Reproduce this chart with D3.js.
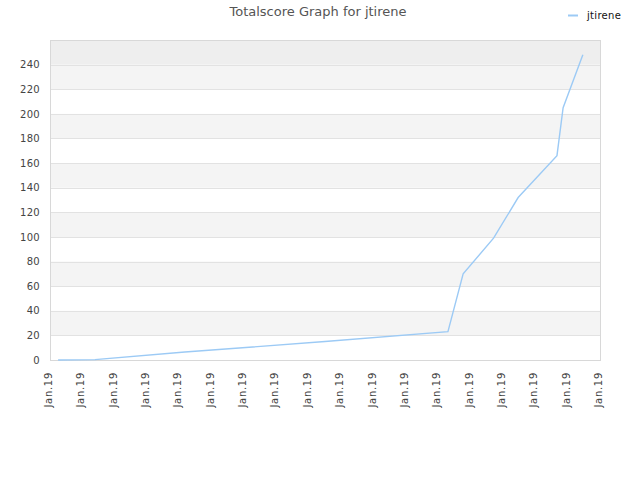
<!DOCTYPE html>
<html>
<head>
<meta charset="utf-8">
<script src="https://cdn.jsdelivr.net/npm/d3@7"></script>
<style>
  html, body { margin: 0; padding: 0; background: #fff; }
  svg { display: block; font-family: "DejaVu Sans", sans-serif; }
</style>
</head>
<body>
<svg id="chart" width="640" height="480"></svg>
<script>
const title = "Totalscore Graph for jtirene";
const seriesName = "jtirene";
const xTickLabels = ["Jan.19","Jan.19","Jan.19","Jan.19","Jan.19","Jan.19","Jan.19","Jan.19","Jan.19","Jan.19","Jan.19","Jan.19","Jan.19","Jan.19","Jan.19","Jan.19","Jan.19","Jan.19"];
const yTicks = [0,20,40,60,80,100,120,140,160,180,200,220,240];
const xValues = [0.25, 1.39, 4.17, 8.5, 12.30, 12.77, 13.71, 14.47, 15.67, 15.86, 16.47];
const yValues = [0, 0.3, 6.5, 15, 23, 70, 99, 132, 166, 205, 248];

const svg = d3.select("#chart");
const m = {left: 50, right: 40, top: 40, bottom: 120};
const W = 640, H = 480;
const x = d3.scaleLinear().domain([0, xTickLabels.length - 1]).range([m.left, W - m.right]);
const y = d3.scaleLinear().domain([0, 260]).range([H - m.bottom, m.top]);

// bands
const bandEdges = d3.range(0, 261, 20);
for (let i = 0; i < bandEdges.length - 1; i++) {
  const lo = bandEdges[i], hi = bandEdges[i + 1];
  let fill = null;
  if (hi === 260) fill = "#eeeeee";
  else if (i % 2 === 1) fill = "#f4f4f4";
  if (fill) svg.append("rect").attr("x", m.left).attr("width", W - m.right - m.left)
    .attr("y", y(hi)).attr("height", y(lo) - y(hi)).attr("fill", fill);
}
// gridlines
svg.append("g").selectAll("line").data(yTicks).join("line")
  .attr("x1", m.left).attr("x2", W - m.right)
  .attr("y1", d => Math.round(y(d)) + 0.5).attr("y2", d => Math.round(y(d)) + 0.5)
  .attr("stroke", "#e2e2e2");
// border
svg.append("rect").attr("x", m.left + 0.5).attr("y", y(260) + 0.5)
  .attr("width", W - m.right - m.left).attr("height", y(0) - y(260))
  .attr("fill", "none").attr("stroke", "#d8d8d8");

// y axis
const yAxis = d3.axisLeft(y).tickValues(yTicks).tickSize(0).tickPadding(10);
const gy = svg.append("g").attr("transform", `translate(${m.left},0)`).call(yAxis);
gy.select(".domain").remove();
gy.selectAll("text").attr("fill", "#444").attr("font-size", "10px").attr("font-family", "DejaVu Sans, sans-serif")
  .attr("letter-spacing", "0.3px");

// x axis
const xAxis = d3.axisBottom(x).tickValues(d3.range(xTickLabels.length)).tickFormat((d, i) => xTickLabels[i]).tickSize(0);
const gx = svg.append("g").attr("transform", `translate(0,${H - m.bottom})`).call(xAxis);
gx.select(".domain").remove();
gx.selectAll("text").attr("fill", "#444").attr("font-size", "10px").attr("font-family", "DejaVu Sans, sans-serif")
  .attr("letter-spacing", "0.7px")
  .attr("text-anchor", "end").attr("transform", "rotate(-90)").attr("x", -12).attr("y", -2).attr("dy", "0.35em");

// line
const pts = xValues.map((v, i) => [v, yValues[i]]);
svg.append("path").datum(pts)
  .attr("d", d3.line().x(d => x(d[0])).y(d => y(d[1])))
  .attr("fill", "none").attr("stroke", "#9ccaf5").attr("stroke-width", 1.4);

// title
svg.append("text").attr("x", 318).attr("y", 16).attr("text-anchor", "middle")
  .attr("font-size", "13px").attr("fill", "#555").text(title);

// legend
svg.append("line").attr("x1", 568).attr("x2", 578).attr("y1", 15.5).attr("y2", 15.5)
  .attr("stroke", "#9ccaf5").attr("stroke-width", 2);
svg.append("text").attr("x", 587).attr("y", 19).attr("font-size", "10px").attr("fill", "#111")
  .attr("letter-spacing", "0.3px").text(seriesName);
</script>
</body>
</html>
